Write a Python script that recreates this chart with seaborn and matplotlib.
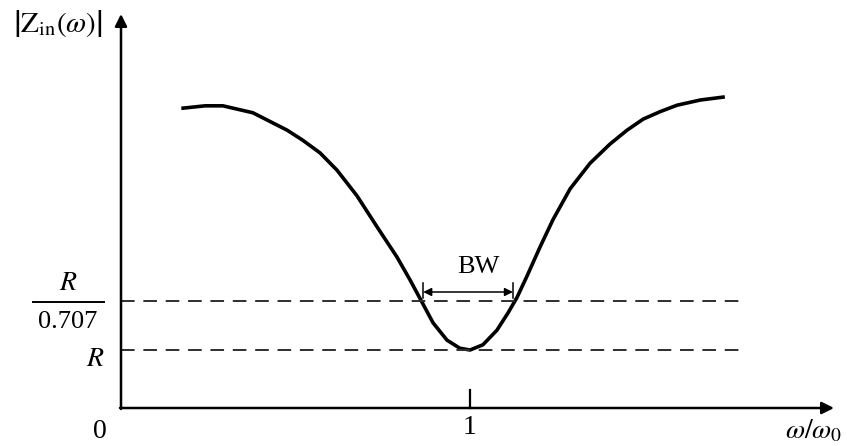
import matplotlib
matplotlib.use("Agg")
import matplotlib.pyplot as plt
import seaborn as sns
import pandas as pd

# ---- data (x in units of w0, y in units of R as drawn) ----
freq_ratio = [0.178, 0.241, 0.292, 0.378, 0.476, 0.520, 0.570, 0.619, 0.676, 0.734,
              0.791, 0.828, 0.862, 0.894, 0.934, 0.971, 1.000, 1.037, 1.077, 1.109,
              1.135, 1.163, 1.201, 1.238, 1.287, 1.344, 1.401, 1.450, 1.496, 1.545,
              1.593, 1.660, 1.725]
impedance = [5.17, 5.21, 5.21, 5.09, 4.79, 4.62, 4.40, 4.10, 3.66, 3.12,
             2.60, 2.21, 1.83, 1.47, 1.17, 1.03, 1.00, 1.09, 1.34, 1.64,
             1.91, 2.27, 2.78, 3.25, 3.78, 4.22, 4.55, 4.79, 4.98, 5.11,
             5.22, 5.31, 5.36]
R_level = 1.00
BW_level = 1.84
line_x_end = 1.79
bw_left, bw_right = 0.866, 1.123
x_tick = [1]

df = pd.DataFrame({"w": freq_ratio, "Z": impedance})

plt.rcParams["mathtext.fontset"] = "stix"
plt.rcParams["font.family"] = ["Liberation Serif", "DejaVu Serif"]

fig = plt.figure(figsize=(8.47, 4.46), dpi=100)
ax = fig.add_axes([0, 0, 1, 1])
ax.set_xlim(-121 / 349, (847 - 121) / 349)
ax.set_ylim((408 - 446) / 58, 408 / 58)
ax.axis("off")

def P(px, py):
    return ((px - 121) / 349, (408 - py) / 58)

# curve
sns.lineplot(data=df, x="w", y="Z", ax=ax, color="black", lw=2.6, sort=False)

# dashed reference lines
for lev in (R_level, BW_level):
    sns.lineplot(x=[0, line_x_end], y=[lev, lev], ax=ax, color="#2e2e2e", lw=1.4,
                 linestyle=(0, (7, 4.5)))

# axes with arrows
ax.annotate("", xy=P(121, 14), xytext=P(121, 409),
            arrowprops=dict(arrowstyle="-|>", lw=1.8, color="black", mutation_scale=18,
                            shrinkA=0, shrinkB=0))
ax.annotate("", xy=P(834, 408), xytext=P(120, 408),
            arrowprops=dict(arrowstyle="-|>", lw=1.8, color="black", mutation_scale=18,
                            shrinkA=0, shrinkB=0))

# tick at 1
for t in x_tick:
    ax.plot([t, t], [0, (408 - 390) / 58], color="black", lw=1.6)
    ax.text(t, P(0, 428)[1], str(t), ha="center", va="center", fontsize=20)

# BW arrow
ax.annotate("", xy=(bw_left, P(0, 292)[1]), xytext=(bw_right, P(0, 292)[1]),
            arrowprops=dict(arrowstyle="<|-|>", lw=1.1, color="black", mutation_scale=12,
                            shrinkA=0, shrinkB=0))
for bx in (bw_left, bw_right):
    ax.plot([bx, bx], [P(0, 283)[1], P(0, 298)[1]], color="black", lw=1.1)
ax.text(*P(478, 267), "BW", ha="center", va="center", fontsize=19)

# labels
ax.text(*P(58, 24), r"$\left|\mathrm{Z}_{\mathrm{in}}(\omega)\right|$", ha="center",
        va="center", fontsize=21)
ax.text(*P(100, 432), "0", ha="center", va="center", fontsize=20)
ax.text(*P(95, 360), r"$R$", ha="center", va="center", fontsize=20)
ax.text(*P(68, 284), r"$R$", ha="center", va="center", fontsize=20)
ax.plot([P(33, 0)[0], P(104, 0)[0]], [P(0, 302)[1]] * 2, color="black", lw=1.4)
ax.text(*P(68, 322), "0.707", ha="center", va="center", fontsize=19)
ax.text(*P(814, 431), r"$\omega/\omega_0$", ha="center", va="center", fontsize=20)

fig.savefig("out.png", dpi=100)
